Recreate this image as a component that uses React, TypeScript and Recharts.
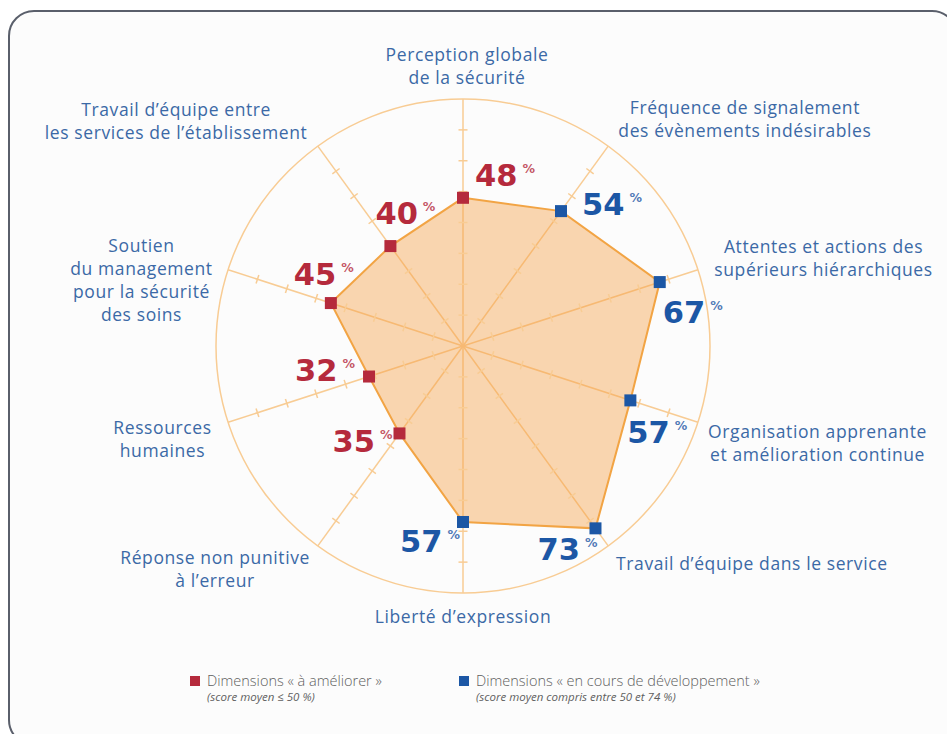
import React from 'react';
import { RadarChart, Radar, PolarGrid, PolarAngleAxis, PolarRadiusAxis } from 'recharts';

const categories = [
  'Perception globale\nde la sécurité',
  'Fréquence de signalement\ndes évènements indésirables',
  'Attentes et actions des\nsupérieurs hiérarchiques',
  'Organisation apprenante\net amélioration continue',
  'Travail d’équipe dans le service',
  'Liberté d’expression',
  'Réponse non punitive\nà l’erreur',
  'Ressources\nhumaines',
  'Soutien\ndu management\npour la sécurité\ndes soins',
  'Travail d’équipe entre\nles services de l’établissement',
];
const scores = [48, 54, 67, 57, 73, 57, 35, 32, 45, 40];
const radialTicks = [10, 20, 30, 40, 50, 60, 70];
const domainMax = 80;
const threshold = 50;
const legendTitles = ['Dimensions « à améliorer »', 'Dimensions « en cours de développement »'];
const legendNotes = ['(score moyen ≤ 50 %)', '(score moyen compris entre 50 et 74 %)'];

const data = categories.map((c, i) => ({ dimension: c, score: scores[i] }));

// layout / style (not data)
const W = 947;
const H = 734;
const CX = 463;
const CY = 346;
const OUTER = 247;
const RED = '#b52a3c';
const BLUE = '#1c57a5';
const LABEL_BLUE = '#3b69a6';
const GRID = '#f8cc94';
const labelOffsets: [number, number][] = [
  [4, -36], [132, -32], [118, -20], [112, 7], [139, 12],
  [0, 16], [-98, 6], [-58, 3], [-79, -21], [-137, -30],
];
const valueOffsets: [number, number][] = [
  [12, -12], [21, 4], [3, 41], [-3, 43], [-58, 32],
  [-63, 30], [-67, 19], [-74, 4], [-37, -18], [-15, -22],
];

const AngleTick = (props: any) => {
  const { x, y, payload } = props;
  const i = categories.indexOf(payload.value);
  const [dx, dy] = labelOffsets[i] || [0, 0];
  const lines = String(payload.value).split('\n');
  const tx = x + dx;
  return (
    <text x={tx} y={y + dy + 6} textAnchor="middle" fill={LABEL_BLUE} fontSize={17.5} fontWeight={500} letterSpacing={0.6} fontFamily="'Open Sans', Lato, sans-serif">
      {lines.map((l, k) => (
        <tspan key={k} x={tx} dy={k === 0 ? 0 : 23}>{l}</tspan>
      ))}
    </text>
  );
};

// One radius axis (vertical); each of its ticks is repeated on all spokes.
const RadiusTick = (props: any) => {
  const { x, y, payload } = props;
  const r = payload.coordinate;
  const cx = x;
  const cy = y + r;
  return (
    <g>
      {categories.map((c, i) => {
        const a = (36 * i * Math.PI) / 180;
        const px = cx + r * Math.sin(a);
        const py = cy - r * Math.cos(a);
        const ux = Math.cos(a) * 4.5;
        const uy = Math.sin(a) * 4.5;
        return <line key={i} x1={px - ux} y1={py - uy} x2={px + ux} y2={py + uy} stroke={GRID} strokeWidth={1.5} />;
      })}
    </g>
  );
};

const ScoreDot = (props: any) => {
  const { cx, cy, index } = props;
  const v = scores[index];
  const color = v <= threshold ? RED : BLUE;
  const [dx, dy] = valueOffsets[index] || [0, 0];
  return (
    <g key={`dot-${index}`}>
      <rect x={cx - 6} y={cy - 6} width={12} height={12} fill={color} />
      <text x={cx + dx} y={cy + dy} fill={color} fontFamily="'DejaVu Sans', sans-serif" fontWeight="bold" fontSize={30.5}>
        {v}
        <tspan dx={5} dy={-13} fontSize={12.5} fontWeight="bold" fillOpacity={0.8}>%</tspan>
      </text>
    </g>
  );
};

export default function App() {
  return (
    <div style={{ position: 'absolute', left: 0, top: 0, width: W, height: H, overflow: 'hidden', background: '#ffffff' }}>
      <div
        style={{
          position: 'absolute', left: 8, top: 10, width: 950, height: 736,
          border: '2px solid #5a5f6b', borderRadius: 26, background: '#fcfcfc', boxSizing: 'border-box',
        }}
      />
      <div style={{ position: 'absolute', left: 0, top: 0 }}>
        <RadarChart width={W} height={H} data={data} cx={CX} cy={CY} outerRadius={OUTER} margin={{ top: 0, right: 0, bottom: 0, left: 0 }}>
          <PolarGrid gridType="circle" polarRadius={[OUTER]} stroke={GRID} strokeWidth={1.5} />
          <PolarAngleAxis dataKey="dimension" tick={AngleTick} axisLine={false} tickLine={false} />
          <PolarRadiusAxis
            angle={90}
            type="number"
            domain={[0, domainMax]}
            ticks={radialTicks}
            tick={RadiusTick}
            axisLine={false}
          />
          <Radar
            dataKey="score"
            stroke="#f2a444"
            strokeWidth={2}
            fill="#f5a045"
            fillOpacity={0.42}
            dot={ScoreDot}
            isAnimationActive={false}
          />
        </RadarChart>
      </div>
      {[0, 1].map((k) => (
        <div key={k} style={{ position: 'absolute', left: k === 0 ? 190 : 459, top: 672, fontFamily: "'Open Sans', Lato, sans-serif", color: '#5f5f5f' }}>
          <div style={{ display: 'flex', alignItems: 'center', height: 18 }}>
            <div style={{ width: 10, height: 10, background: k === 0 ? RED : BLUE, marginRight: 7 }} />
            <span style={{ fontSize: 14.5, lineHeight: '18px', fontWeight: 300 }}>{legendTitles[k]}</span>
          </div>
          <div style={{ marginLeft: 17, fontSize: 11.5, fontStyle: 'italic', lineHeight: '14px', marginTop: 0 }}>{legendNotes[k]}</div>
        </div>
      ))}
    </div>
  );
}
